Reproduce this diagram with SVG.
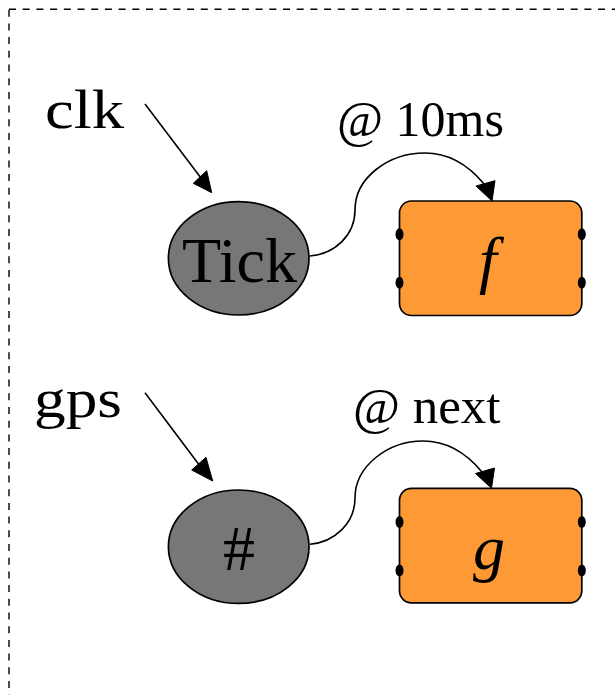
<svg xmlns="http://www.w3.org/2000/svg" width="615" height="695" viewBox="0 0 615 695">
  <style>
    .frame { fill: none; stroke: #000; stroke-width: 1.4; stroke-dasharray: 7 6.7; }
    .src { fill: #777777; stroke: #000; stroke-width: 1.7; }
    .blk { fill: #fe9a35; stroke: #000; stroke-width: 1.7; }
    .port { fill: #000; }
    .edge { fill: none; stroke: #000; stroke-width: 1.6; }
    .head { fill: #000; stroke: #000; stroke-width: 1; }
    .lbl { font-family: "Liberation Serif", "Times New Roman", serif; fill: #000; }
    .math { font-family: "Liberation Serif", "Times New Roman", serif; font-style: italic; fill: #000; }
  </style>

  <!-- dashed enclosing frame, open past the right and bottom edges -->
  <rect class="frame" x="9" y="9.3" width="640" height="720"/>

  <!-- inputs -->
  <g id="clk">
    <text class="lbl" x="45" y="128.3" font-size="54" textLength="79" lengthAdjust="spacingAndGlyphs">clk</text>
  </g>
  <g id="gps">
    <text class="lbl" x="34" y="416.7" font-size="54" textLength="88" lengthAdjust="spacingAndGlyphs">gps</text>
  </g>

  <!-- trigger sources -->
  <g id="tick">
    <ellipse class="src" cx="238.7" cy="258.3" rx="70.3" ry="56.7"/>
    <text class="lbl" x="239.5" y="281.7" font-size="64" text-anchor="middle">Tick</text>
  </g>
  <g id="hash">
    <ellipse class="src" cx="238.7" cy="546.7" rx="70.3" ry="56.7"/>
    <text class="lbl" x="239" y="570" font-size="64" text-anchor="middle">#</text>
  </g>

  <!-- function blocks with ports -->
  <g id="f">
    <rect class="blk" x="399.5" y="201" width="182.3" height="114.5" rx="12" ry="12"/>
    <ellipse class="port" cx="399.5" cy="234.3" rx="4" ry="6"/>
    <ellipse class="port" cx="399.5" cy="282.7" rx="4" ry="6"/>
    <ellipse class="port" cx="581.8" cy="234.3" rx="4" ry="6"/>
    <ellipse class="port" cx="581.8" cy="282.7" rx="4" ry="6"/>
    <text class="math" x="488" y="281" font-size="64" text-anchor="middle">f</text>
  </g>
  <g id="g">
    <rect class="blk" x="399.5" y="488.3" width="182.3" height="114.5" rx="12" ry="12"/>
    <ellipse class="port" cx="399.5" cy="522" rx="4" ry="6"/>
    <ellipse class="port" cx="399.5" cy="570.5" rx="4" ry="6"/>
    <ellipse class="port" cx="581.8" cy="522" rx="4" ry="6"/>
    <ellipse class="port" cx="581.8" cy="570.5" rx="4" ry="6"/>
    <text class="math" x="489" y="569" font-size="64" text-anchor="middle">g</text>
  </g>

  <!-- connectors -->
  <g id="edges">
    <path class="edge" d="M145,104 L201,178"/>
    <polygon class="head" points="211.7,192.7 193.3,183.3 206.7,170.7"/>

    <path class="edge" d="M145,392.7 L200,466"/>
    <polygon class="head" points="212.7,481 191.7,470 206,457.3"/>

    <path class="edge" d="M310,256 C335,254 355,235 355,210 C355,178 388,153 425,153 C450,153 470,167 484,184"/>
    <polygon class="head" points="492,201 476,186 495,180.7"/>
    <text class="lbl" x="337" y="135.7" font-size="50">@ 10ms</text>

    <path class="edge" d="M310,544.3 C335,542 355,523 355,498 C355,466 388,441 423,441 C448,441 468,455 482,472"/>
    <polygon class="head" points="491.5,488.3 475.5,473.5 494.5,468"/>
    <text class="lbl" x="353" y="423.3" font-size="51">@ next</text>
  </g>
</svg>
